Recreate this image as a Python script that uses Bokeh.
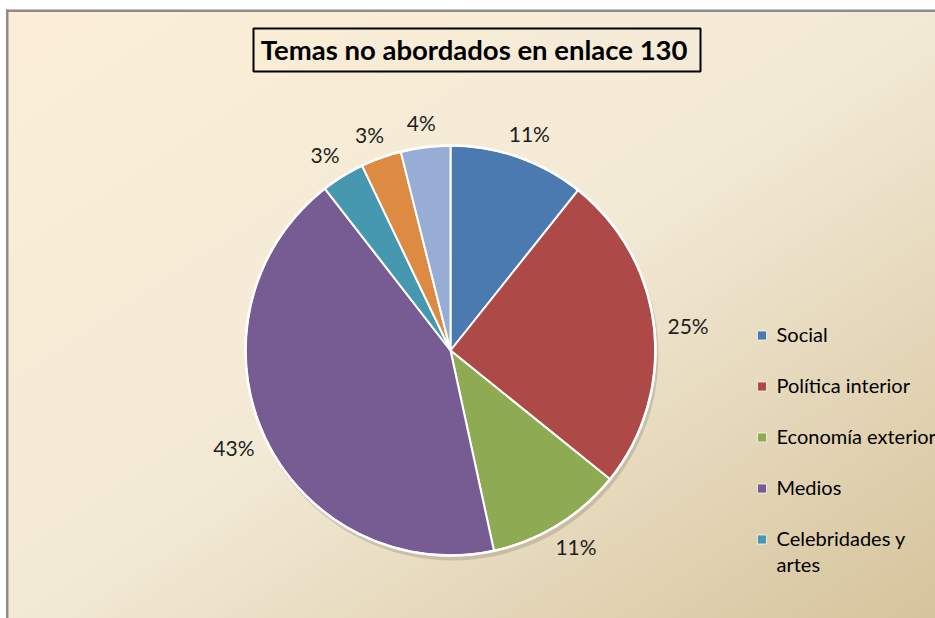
import numpy as np
from bokeh.plotting import figure
from bokeh.models import Range1d, ColumnDataSource
from bokeh.core.properties import value
from bokeh.embed import file_html
from bokeh.resources import INLINE

# ---------------- data ----------------
title_text = "Temas no abordados  en enlace 130"
categories = ["Social", "Política interior", "Economía exterior", "Medios",
              "Celebridades y artes", "Otros (naranja)", "Otros (celeste)"]
shares = [10.7, 25.1, 10.8, 42.9, 3.4, 3.2, 3.9]
pct_labels = ["11%", "25%", "11%", "43%", "3%", "3%", "4%"]
colors = ["#4A7AB0", "#AD4A47", "#8EAB53", "#775C94", "#4698B0", "#DD8A42", "#97ADD6"]
legend_labels = ["Social", "Política interior", "Economía exterior", "Medios",
                 "Celebridades y\nartes"]

# ---------------- layout ----------------
W, H = 935, 618
FONT = "Lato"

p = figure(width=W, height=H, x_range=Range1d(0, W), y_range=Range1d(0, H),
           output_backend="svg", toolbar_location=None, min_border=0,
           x_axis_location=None, y_axis_location=None)
p.grid.visible = False
p.outline_line_color = None
p.background_fill_color = "white"
p.border_fill_color = "white"

# background gradient (cream -> tan towards bottom-right)
gh, gw = 305, 464
gx = np.linspace(0, 1, gw)[None, :]
gy = np.linspace(0, 1, gh)[:, None]          # row 0 = bottom
t = (gx + (1 - gy)) / 2.0
c0 = np.array([253, 239, 214], float)
c1 = np.array([243, 234, 214], float)
c2 = np.array([214, 196, 156], float)
t3 = t[..., None]
lo = c0 + (c1 - c0) * np.clip(t3 / 0.5, 0, 1)
hi = c1 + (c2 - c1) * np.clip((t3 - 0.5) / 0.5, 0, 1)
rgb = np.where(t3 <= 0.5, lo, hi)
img = np.empty((gh, gw), dtype=np.uint32)
view = img.view(dtype=np.uint8).reshape((gh, gw, 4))
view[..., 0:3] = rgb.astype(np.uint8)
view[..., 3] = 255
p.image_rgba(image=[img], x=8, y=-3, dw=W - 6, dh=610)

# chart frame (gray border on left and top)
p.quad(left=[5.5], right=[8], bottom=[-2], top=[609], fill_color="#8C8C8C", line_color=None)
p.quad(left=[5.5], right=[W + 2], bottom=[606.5], top=[609], fill_color="#8C8C8C", line_color=None)

# title box
p.rect(x=[476.5], y=[568.5], width=[447], height=[43], fill_color=None,
       line_color="black", line_width=2)
p.text(x=[477], y=[569], text=[title_text], text_font=value(FONT),
       text_font_size="27.5px", text_font_style="bold", text_color="black",
       text_align="center", text_baseline="middle")

# pie
cx, cy, R = 450, 268, 205
fr = np.array(shares, float) / sum(shares)
cum = np.concatenate([[0.0], np.cumsum(fr)])
start = np.pi / 2 - 2 * np.pi * cum[1:]
end = np.pi / 2 - 2 * np.pi * cum[:-1]
mid = (start + end) / 2

src = ColumnDataSource(dict(cat=categories, start=start, end=end, color=colors))
p.circle(x=[cx + 2], y=[cy - 4], radius=R + 1, fill_color="black",
         fill_alpha=0.13, line_color=None)
p.wedge(x=cx, y=cy, radius=R, start_angle="start", end_angle="end",
        fill_color="color", line_color="white", line_width=2, source=src)
p.circle(x=[cx], y=[cy], radius=R, fill_color=None, line_color="white", line_width=2.5)

# percentage labels outside the slices
d, hw, hh = 14, 20, 11
lx = cx + (R + d) * np.cos(mid) + hw * np.cos(mid)
ly = cy + (R + d) * np.sin(mid) + hh * np.sin(mid)
p.text(x=lx, y=ly, text=pct_labels, text_font=value(FONT), text_font_size="21px",
       text_color="#1E1E1E", text_align="center", text_baseline="middle")

# legend (first five categories)
n = len(legend_labels)
leg_y = 283 - 51 * np.arange(n)
p.rect(x=[761.5] * n, y=leg_y, width=9, height=9, fill_color=colors[:n],
       line_color="white", line_width=0.7)
p.text(x=[776] * n, y=leg_y + 14, text=legend_labels, text_font=value(FONT),
       text_font_size="20px", text_color="black", text_align="left",
       text_baseline="top", text_line_height=1.1)

open("out.html", "w").write(file_html(p, INLINE))
